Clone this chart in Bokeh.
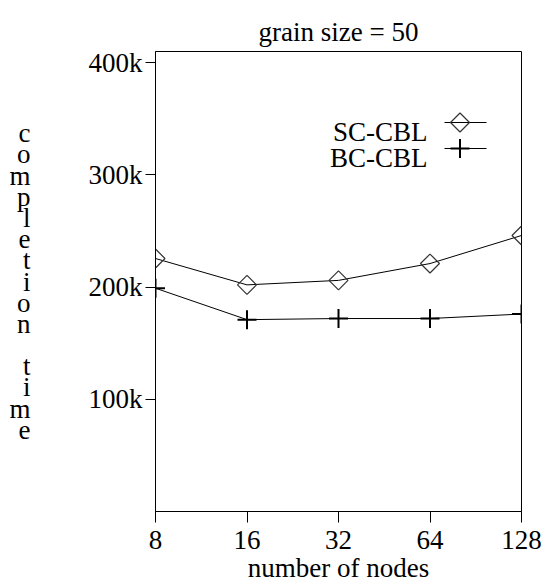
import numpy as np
from bokeh.plotting import figure
from bokeh.models import Range1d, FixedTicker, Label
from bokeh.embed import file_html
from bokeh.resources import INLINE

# ---- data ----
nodes = [8, 16, 32, 64, 128]
sc_cbl = [225500, 202000, 206000, 221000, 246000]
bc_cbl = [199000, 171000, 172000, 172000, 176000]
y_ticks = [100000, 200000, 300000, 400000]
y_tick_labels = ["100k", "200k", "300k", "400k"]
series_names = ["SC-CBL", "BC-CBL"]
title_text = "grain size = 50"
x_label = "number of nodes"
y_label = "completion time"

# ---- style ----
FONT = "Liberation Serif"
FS = "27px"
W, H = 545, 586
BL, BR, BT, BB = 155, 24, 51, 75
FW, FH = W - BL - BR, H - BT - BB
Y0, Y1 = 0, 410000

p = figure(width=W, height=H, x_axis_type="log",
           x_range=Range1d(nodes[0], nodes[-1]), y_range=Range1d(Y0, Y1),
           output_backend="svg", toolbar_location=None,
           min_border_left=BL, min_border_right=BR,
           min_border_top=BT, min_border_bottom=BB)
p.xgrid.visible = False
p.ygrid.visible = False
p.outline_line_color = "black"
p.outline_line_width = 1
p.background_fill_color = "white"
p.border_fill_color = "white"

# title
p.title.text = title_text
p.title.align = "center"
p.title.text_font = FONT
p.title.text_font_size = FS
p.title.text_font_style = "normal"
p.title.text_color = "black"
p.title.standoff = 10

p.xaxis.ticker = FixedTicker(ticks=nodes)
p.xaxis.major_label_overrides = {n: str(n) for n in nodes}
p.yaxis.ticker = FixedTicker(ticks=y_ticks)
p.yaxis.major_label_overrides = dict(zip(y_ticks, y_tick_labels))
for ax in (p.xaxis[0], p.yaxis[0]):
    ax.axis_line_color = "black"
    ax.major_tick_line_color = "black"
    ax.major_tick_in = 0
    ax.minor_tick_line_color = None
    ax.major_label_text_font = FONT
    ax.major_label_text_font_size = FS
    ax.major_label_text_color = "black"
    ax.axis_label_text_font = FONT
    ax.axis_label_text_font_size = FS
    ax.axis_label_text_font_style = "normal"
    ax.axis_label_text_color = "black"
p.xaxis.major_tick_out = 11
p.yaxis.major_tick_out = 10
p.xaxis.major_label_standoff = 8
p.yaxis.major_label_standoff = 3

p.xaxis.axis_label = x_label
p.xaxis.axis_label_standoff = 1

p.yaxis.axis_label = "\n".join(list(y_label))
p.yaxis.axis_label_orientation = "horizontal"
p.yaxis.axis_label_text_line_height = 0.706
p.yaxis.axis_label_text_align = "center"
p.yaxis.axis_label_standoff = 55

# page-pixel -> data helpers for the legend
def xd(px):
    i = (px - BL) / (FW / 4.0)
    return nodes[0] * 2 ** i

def yd(py):
    return (BT + FH - py) / FH * (Y1 - Y0) + Y0

# ---- series ----
p.line(nodes, sc_cbl, line_color="black", line_width=1)
p.line(nodes, bc_cbl, line_color="black", line_width=1)
p.scatter(nodes, sc_cbl, marker="square", angle=np.pi / 4, size=13.4,
          fill_color=None, line_color="#333333", line_width=1.2)
p.scatter(nodes, bc_cbl, marker="cross", size=19,
          line_color="black", line_width=2)

# ---- legend (text left of symbol) ----
for name, ry, mk in [(series_names[0], 122, "sq"), (series_names[1], 148, "cross")]:
    p.add_layout(Label(x=xd(427), y=yd(ry + 9), text=name, text_align="right",
                       text_baseline="alphabetic", text_font=FONT,
                       text_font_size=FS, text_color="black"))
    p.line([xd(444), xd(486)], [yd(ry), yd(ry)], line_color="black", line_width=1)
    if mk == "sq":
        p.scatter([xd(459.5)], [yd(ry)], marker="square", angle=np.pi / 4,
                  size=13.4, fill_color=None, line_color="#333333", line_width=1.2)
    else:
        p.scatter([xd(459.5)], [yd(ry)], marker="cross", size=19,
                  line_color="black", line_width=2)

open("out.html", "w").write(file_html(p, INLINE))
